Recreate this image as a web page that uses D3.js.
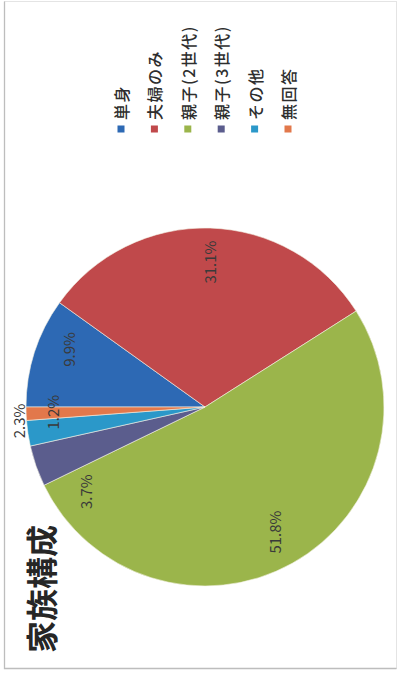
<!DOCTYPE html>
<html>
<head>
<meta charset="utf-8">
<script src="https://cdn.jsdelivr.net/npm/d3@7"></script>
<style>
  html, body { margin: 0; padding: 0; background: #fff; }
  svg { display: block; }
</style>
</head>
<body>
<svg id="chart" width="398" height="674"></svg>
<script>
// Household composition (家族構成), percentages of respondents
const categories = ["単身", "夫婦のみ", "親子(2世代)", "親子(3世代)", "その他", "無回答"];
const values = [9.9, 31.1, 51.8, 3.7, 2.3, 1.2];
const colors = ["#2d69b4", "#c0494b", "#9bb54b", "#5b5d8d", "#2b98c9", "#e2784b"];
const title = "家族構成";

const W = 398, H = 674;
const svg = d3.select("#chart");

// Outer frame: left and bottom edges drawn darker than top and right
svg.append("rect")
  .attr("x", 4.5).attr("y", 1.5)
  .attr("width", 392).attr("height", 667)
  .attr("fill", "none").attr("stroke", "#e4e4e4").attr("stroke-width", 1);
svg.append("path")
  .attr("d", "M4.5,1.5V668.5H396.5")
  .attr("fill", "none").attr("stroke", "#bdbdbd").attr("stroke-width", 1.3);

// The chart is laid out in a landscape frame (674 wide, 398 tall) and turned a quarter turn
const g = svg.append("g").attr("transform", `translate(0,${H}) rotate(-90)`);

const data = categories.map((c, i) => ({ name: c, value: values[i], color: colors[i] }));

const cx = 267, cy = 205, r = 179;
const pie = d3.pie().value(d => d.value).sort(null);
const arcs = pie(data);
const arc = d3.arc().innerRadius(0).outerRadius(r);

const pieG = g.append("g").attr("transform", `translate(${cx},${cy})`);
pieG.selectAll("path")
  .data(arcs)
  .join("path")
  .attr("d", arc)
  .attr("fill", d => d.data.color)
  .attr("stroke", "#f4f2e4")
  .attr("stroke-width", 0.6);

// Data labels: placed around each slice's mid angle, with small slices nudged apart
const labelTweak = {
  "単身": { dAngle: 5, k: 0.83 },
  "夫婦のみ": { dAngle: 0, k: 0.81 },
  "親子(2世代)": { dAngle: 0, k: 0.80 },
  "親子(3世代)": { dAngle: -16, k: 0.82 },
  "その他": { dAngle: 4.2, k: 1.047 },
  "無回答": { dAngle: 0.2, k: 0.855 }
};
pieG.selectAll("text.lbl")
  .data(arcs)
  .join("text")
  .attr("class", "lbl")
  .each(function (d) {
    const t = labelTweak[d.data.name];
    const a = (d.startAngle + d.endAngle) / 2 + t.dAngle * Math.PI / 180;
    const rr = r * t.k;
    d3.select(this)
      .attr("x", rr * Math.sin(a))
      .attr("y", -rr * Math.cos(a));
  })
  .attr("text-anchor", "middle")
  .attr("dominant-baseline", "central")
  .attr("font-family", "'Noto Sans CJK JP', 'Noto Sans', sans-serif")
  .attr("font-size", 15)
  .attr("fill", "#3a3a3a")
  .text(d => d3.format(".1f")(d.data.value) + "%");

// Title
g.append("text")
  .attr("x", 21).attr("y", 40)
  .attr("dominant-baseline", "central")
  .attr("font-family", "'Noto Sans CJK JP', sans-serif")
  .attr("font-size", 32)
  .attr("font-weight", 600)
  .attr("fill", "#262626")
  .text(title);

// Legend
const legendY = d3.scalePoint().domain(categories).range([121, 288]);
const leg = g.append("g").selectAll("g")
  .data(data)
  .join("g")
  .attr("transform", d => `translate(545,${legendY(d.name)})`);
leg.append("rect")
  .attr("x", -3.5).attr("y", -3.5)
  .attr("width", 7).attr("height", 7)
  .attr("fill", d => d.color);
leg.append("text")
  .attr("x", 9).attr("y", 0)
  .attr("dominant-baseline", "central")
  .attr("font-family", "'Noto Sans CJK JP', sans-serif")
  .attr("font-size", 16)
  .attr("letter-spacing", 1.5)
  .attr("font-weight", 500)
  .attr("fill", "#2e2e2e")
  .text(d => d.name);
</script>
</body>
</html>
